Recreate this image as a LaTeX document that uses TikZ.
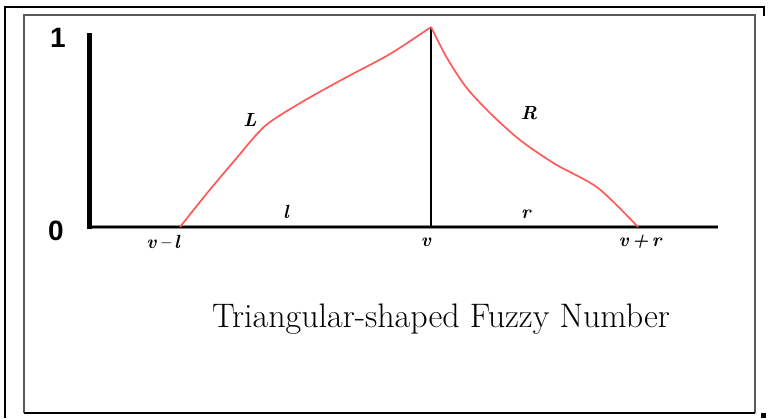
\documentclass[tikz,border=0pt]{standalone}
\usepackage{fontspec}
\newfontfamily\heavy{Liberation Sans}
\begin{document}
\begin{tikzpicture}[x=1pt,y=-1pt,
  outerframe/.style={line width=2.2pt,black},
  innerframe/.style={line width=1.2pt,black!65},
  curve/.style={red!65,line width=1.7pt,line join=round},
  axislabel/.style={font=\heavy\bfseries\fontsize{28}{30}\selectfont,inner sep=0pt},
  sym/.style={font=\bfseries\itshape\fontsize{19}{21}\selectfont,inner sep=0pt},
  caption/.style={font=\fontsize{34}{38}\selectfont,inner sep=0pt}]
\useasboundingbox (0,0) rectangle (769,418);
% frames
\draw[outerframe] (5,418) -- (5,7) -- (764,7) -- (764,16);
\draw[innerframe] (24,413) -- (24,15) -- (755,15) -- (755,413);
\draw[line width=2pt,black] (24,413) -- (755,413);
\fill[black] (761,413) rectangle (766,418);
% axes
\coordinate (o) at (89,227);
\coordinate (ytop) at (89,33);
\coordinate (xend) at (718,227);
\draw[black!45,line width=4pt] (o) -- (xend);
\draw[black,line width=1.2pt] (o) -- (xend);
\draw[black,line width=5pt] (89,229) -- (ytop);
\node[axislabel] (one) at (58,38) {1};
\node[axislabel] (zero) at (56,231) {0};
% triangle
\coordinate (a) at (180,227);
\coordinate (peak) at (431,27);
\coordinate (b) at (638,227);
\coordinate (pfoot) at (431,227);
\draw[black,line width=1.3pt] (peak) -- (pfoot);
\draw[curve] plot[smooth,tension=0.5] coordinates {(a) (208,192) (235,160) (265,126) (302,102) (345,78) (390,54) (peak)};
\draw[curve] plot[smooth,tension=0.5] coordinates {(peak) (447,58) (466,87) (490,113) (520,140) (555,164) (598,188) (b)};
% labels
\node[sym] (L) at (250,120) {L};
\node[sym] (R) at (529,113) {R};
\node[sym] (l) at (286,212) {l};
\node[sym] (r) at (526,214) {r};
\node[sym] (vl) at (163,242) {v\,--\,l};
\node[sym] (v) at (426,242) {v};
\node[sym] (vr) at (640,242) {v\,+\,r};
\node[caption] (cap) at (441,319) {Triangular-shaped Fuzzy Number};
\end{tikzpicture}
\end{document}
